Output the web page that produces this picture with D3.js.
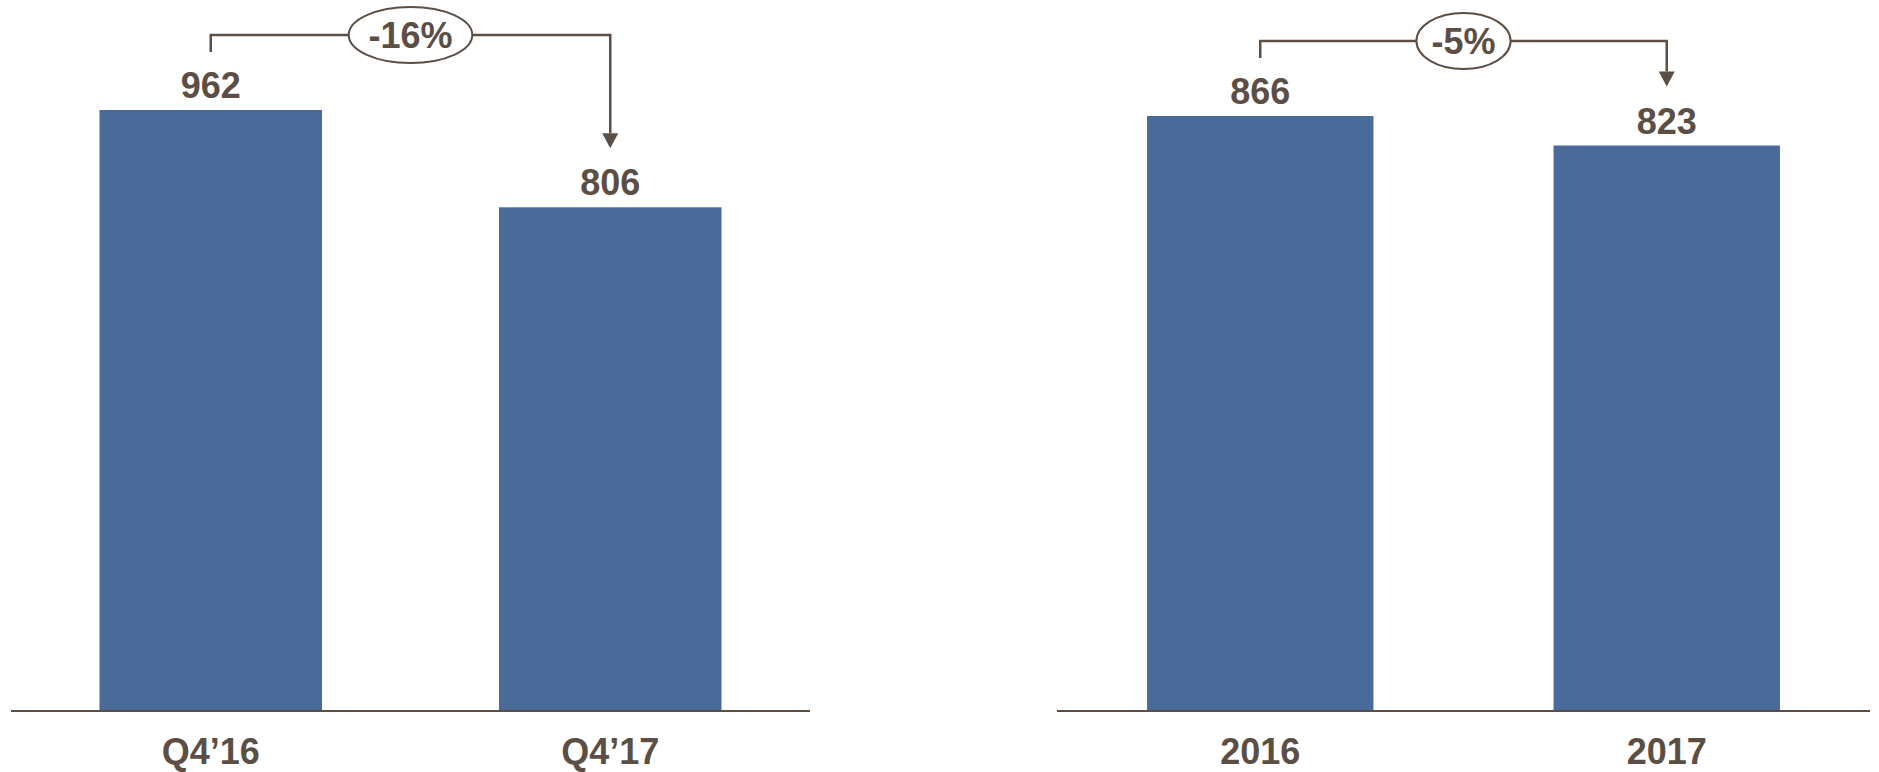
<!DOCTYPE html>
<html>
<head>
<meta charset="utf-8">
<script src="https://cdn.jsdelivr.net/npm/d3@7"></script>
<style>
  html, body { margin: 0; padding: 0; background: #ffffff; }
  svg { display: block; }
  text { font-family: "Liberation Sans", Arial, sans-serif; font-weight: bold; }
</style>
</head>
<body>
<svg id="chart" width="1879" height="772"></svg>
<script>
// ---- Data ----
const quarterCategories = ["Q4\u201916", "Q4\u201917"];
const quarterValues = [962, 806];
const quarterChange = "-16%";

const yearCategories = ["2016", "2017"];
const yearValues = [866, 823];
const yearChange = "-5%";

// ---- Style ----
const barColor = "#4a6b9a";
const inkColor = "#5b4f45";
const baseline = 710;

const svg = d3.select("#chart");

function drawPanel(cfg) {
  const g = svg.append("g");
  const x = d3.scaleBand()
    .domain(cfg.categories)
    .range([cfg.x0, cfg.x1])
    .paddingInner(0.443)
    .paddingOuter(0.2215);
  const y = d3.scaleLinear()
    .domain([0, cfg.yMax])
    .range([baseline, cfg.yTop]);

  const data = cfg.categories.map((c, i) => ({ c, v: cfg.values[i] }));

  // bars
  g.selectAll("rect.bar").data(data).enter().append("rect")
    .attr("class", "bar")
    .attr("x", d => x(d.c))
    .attr("y", d => y(d.v))
    .attr("width", x.bandwidth())
    .attr("height", d => baseline - y(d.v))
    .attr("fill", barColor);

  // baseline axis
  const axis = d3.axisBottom(x).tickSize(0).tickPadding(0);
  const ag = g.append("g").attr("transform", `translate(0,${baseline + 1})`).call(axis);
  ag.select(".domain").attr("stroke", inkColor).attr("stroke-width", 2)
    .attr("d", `M${cfg.x0},0H${cfg.x1}`);
  ag.selectAll(".tick text")
    .attr("y", 53)
    .attr("dy", 0)
    .attr("fill", inkColor)
    .style("font-size", "36px")
    .style("font-family", "'Liberation Sans', Arial, sans-serif")
    .style("font-weight", "bold");

  // value labels
  g.selectAll("text.val").data(data).enter().append("text")
    .attr("class", "val")
    .attr("x", d => x(d.c) + x.bandwidth() / 2)
    .attr("y", d => y(d.v) - 12)
    .attr("text-anchor", "middle")
    .attr("fill", inkColor)
    .style("font-size", "36px")
    .text(d => d.v);

  // change bracket
  const cx0 = x(cfg.categories[0]) + x.bandwidth() / 2;
  const cx1 = x(cfg.categories[1]) + x.bandwidth() / 2;
  const top0 = y(cfg.values[0]);
  const top1 = y(cfg.values[1]);
  const lineY = Math.min(top0, top1) - 75;
  const tickBottom = top0 - 58;
  const arrowTip = top1 - 59;
  const headH = 15, headW = 8;

  g.append("path")
    .attr("d", `M${cx0},${tickBottom}V${lineY}H${cx1}V${arrowTip - headH}`)
    .attr("fill", "none")
    .attr("stroke", inkColor)
    .attr("stroke-width", 2.5);
  g.append("path")
    .attr("d", `M${cx1 - headW},${arrowTip - headH}L${cx1 + headW},${arrowTip - headH}L${cx1},${arrowTip}Z`)
    .attr("fill", inkColor);

  const mid = (cx0 + cx1) / 2;
  const ell = g.append("ellipse")
    .attr("cx", mid).attr("cy", lineY)
    .attr("ry", 28)
    .attr("fill", "#ffffff")
    .attr("stroke", inkColor)
    .attr("stroke-width", 2);
  const t = g.append("text")
    .attr("x", mid)
    .attr("y", lineY + 13)
    .attr("text-anchor", "middle")
    .attr("fill", inkColor)
    .style("font-size", "36px")
    .text(cfg.change);
  const bw = t.node().getBBox().width;
  ell.attr("rx", bw / 2 * 1.47);
}

drawPanel({
  categories: quarterCategories, values: quarterValues, change: quarterChange,
  x0: 11, x1: 810, yMax: 1000, yTop: 86.3
});
drawPanel({
  categories: yearCategories, values: yearValues, change: yearChange,
  x0: 1057, x1: 1870, yMax: 1000, yTop: 24.1
});
</script>
</body>
</html>
